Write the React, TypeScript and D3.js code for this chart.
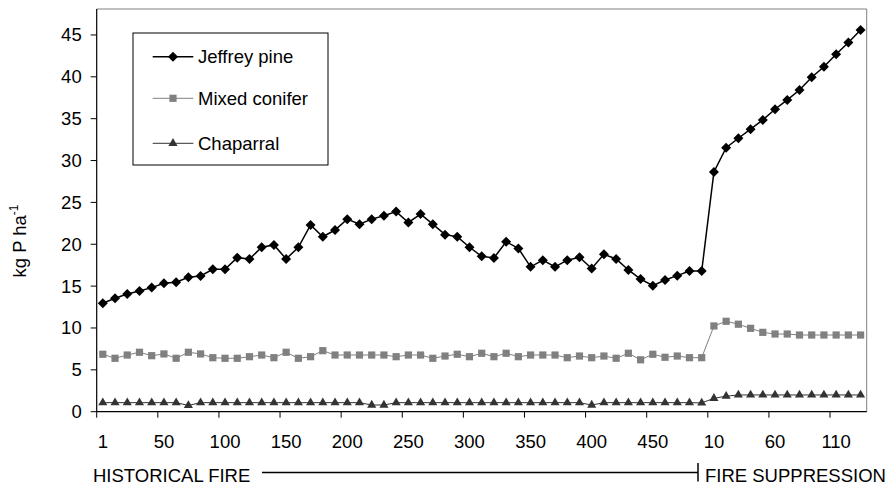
import React from "react"
import * as d3 from "d3"

// years since start of record; historical fire period then fire suppression period
const categories = [
  "1", "10", "20", "30", "40", "50", "60", "70", "80", "90",
  "100", "110", "120", "130", "140", "150", "160", "170", "180", "190",
  "200", "210", "220", "230", "240", "250", "260", "270", "280", "290",
  "300", "310", "320", "330", "340", "350", "360", "370", "380", "390",
  "400", "410", "420", "430", "440", "450", "460", "470", "480", "490",
  "s10", "s20", "s30", "s40", "s50", "s60", "s70", "s80", "s90", "s100",
  "s110", "s120", "s130",
]

const jeffreyPine = [
  12.95, 13.55, 14.06, 14.42, 14.82, 15.34, 15.46, 16.05, 16.21, 17.0,
  17.0, 18.4, 18.24, 19.64, 19.92, 18.24, 19.64, 22.3, 20.9, 21.7,
  23.0, 22.4, 23.0, 23.4, 23.9, 22.6, 23.6, 22.4, 21.15, 20.9,
  19.64, 18.56, 18.36, 20.3, 19.5, 17.3, 18.1, 17.3, 18.1, 18.45,
  17.1, 18.8, 18.24, 16.93, 15.85, 15.05, 15.73, 16.25, 16.8, 16.8,
  28.64, 31.54, 32.66, 33.74, 34.85, 36.13, 37.24, 38.43, 39.95, 41.2,
  42.7, 44.1, 45.6,
]

const mixedConifer = [
  6.86, 6.38, 6.77, 7.1, 6.69, 6.9, 6.38, 7.1, 6.9, 6.45,
  6.38, 6.38, 6.57, 6.77, 6.45, 7.1, 6.38, 6.57, 7.29, 6.77,
  6.77, 6.77, 6.77, 6.77, 6.57, 6.77, 6.77, 6.38, 6.65, 6.86,
  6.57, 6.98, 6.57, 6.98, 6.57, 6.77, 6.77, 6.77, 6.45, 6.65,
  6.45, 6.65, 6.38, 6.98, 6.2, 6.86, 6.5, 6.65, 6.45, 6.45,
  10.24, 10.8, 10.45, 9.96, 9.48, 9.28, 9.28, 9.16, 9.16, 9.16,
  9.16, 9.16, 9.16,
]

const chaparral = [
  1.08, 1.08, 1.08, 1.08, 1.08, 1.08, 1.08, 0.75, 1.08, 1.08,
  1.08, 1.08, 1.08, 1.08, 1.08, 1.08, 1.08, 1.08, 1.08, 1.08,
  1.08, 1.08, 0.8, 0.8, 1.08, 1.08, 1.08, 1.08, 1.08, 1.08,
  1.08, 1.08, 1.08, 1.08, 1.08, 1.08, 1.08, 1.08, 1.08, 1.08,
  0.8, 1.08, 1.08, 1.08, 1.08, 1.08, 1.08, 1.08, 1.08, 1.05,
  1.6, 1.85, 2.0, 2.0, 2.0, 2.0, 2.0, 2.0, 2.0, 2.0,
  2.0, 2.0, 2.0,
]

const yTicks = [0, 5, 10, 15, 20, 25, 30, 35, 40, 45]

const series = [
  { name: "Jeffrey pine", values: jeffreyPine, color: "#000000", line: "#000000", width: 1.5, shape: "diamond" },
  { name: "Mixed conifer", values: mixedConifer, color: "#808080", line: "#808080", width: 1, shape: "square" },
  { name: "Chaparral", values: chaparral, color: "#333333", line: "#333333", width: 1, shape: "triangle" },
]

const W = 888
const H = 486
const margin = { top: 9, right: 21.3, bottom: 74.3, left: 96.7 }
const font = "Arial, 'Liberation Sans', sans-serif"
const fs = 18.5

function tickLabel(c: string) {
  return c.startsWith("s") ? c.slice(1) : c
}

function markerPath(shape: string) {
  if (shape === "diamond") return d3.symbol(d3.symbolSquare, 50)()
  if (shape === "square") return d3.symbol(d3.symbolSquare, 52)()
  return d3.symbol(d3.symbolTriangle, 36)()
}

export default function App() {
  const x = d3
    .scaleBand()
    .domain(categories)
    .range([margin.left, W - margin.right])
  const y = d3
    .scaleLinear()
    .domain([0, 48.1])
    .range([H - margin.bottom, margin.top])

  const cx = (i: number) => x(categories[i])! + x.bandwidth() / 2
  const line = d3
    .line<number>()
    .x((_, i) => cx(i))
    .y(d => y(d))

  const x0 = margin.left
  const x1 = W - margin.right
  const y0 = H - margin.bottom
  const y1 = margin.top

  const tickIdx = categories.map((_, i) => i).filter(i => i % 5 === 0)

  return (
    <svg
      width={W}
      height={H}
      style={{ position: "absolute", left: 0, top: 0, background: "#fff" }}
      fontFamily={font}
    >
      <rect x={0} y={0} width={W} height={H} fill="#fff" />

      {/* plot frame */}
      <line x1={x0} y1={y1} x2={x1} y2={y1} stroke="#808080" strokeWidth={1} />
      <line x1={x1} y1={y1} x2={x1} y2={y0} stroke="#808080" strokeWidth={1} />

      {/* series */}
      {series.map(s => (
        <g key={s.name}>
          <path d={line(s.values)!} fill="none" stroke={s.line} strokeWidth={s.width} />
          {s.values.map((v, i) => (
            <path
              key={i}
              d={markerPath(s.shape)!}
              transform={`translate(${cx(i)},${y(v)})${s.shape === "diamond" ? " rotate(45)" : ""}`}
              fill={s.color}
            />
          ))}
        </g>
      ))}

      {/* y axis */}
      <line x1={x0} y1={y0} x2={x0} y2={y1} stroke="#000" strokeWidth={1.2} />
      {yTicks.map(t => (
        <g key={t}>
          <line x1={x0 - 6} x2={x0} y1={y(t)} y2={y(t)} stroke="#000" />
          <text x={x0 - 15} y={y(t)} dy="0.35em" textAnchor="end" fontSize={fs}>
            {t}
          </text>
        </g>
      ))}
      <text
        transform={`translate(26,${241}) rotate(-90)`}
        textAnchor="middle"
        fontSize={fs}
      >
        kg P ha
        <tspan fontSize={12} dy="-8">-1</tspan>
      </text>

      {/* x axis */}
      <line x1={x0} y1={y0} x2={x1} y2={y0} stroke="#000" strokeWidth={1.2} />
      {tickIdx.map(i => (
        <g key={i}>
          <line x1={x(categories[i])!} x2={x(categories[i])!} y1={y0} y2={y0 + 6} stroke="#000" />
          <text x={cx(i)} y={y0 + 36.5} textAnchor="middle" fontSize={fs}>
            {tickLabel(categories[i])}
          </text>
        </g>
      ))}

      {/* period annotation */}
      <text x={93} y={481.5} fontSize={fs}>HISTORICAL FIRE</text>
      <line x1={262} x2={698} y1={472.5} y2={472.5} stroke="#000" strokeWidth={1.5} />
      <line x1={698} x2={698} y1={463} y2={481.5} stroke="#000" strokeWidth={1.5} />
      <text x={705} y={481.5} fontSize={fs}>FIRE SUPPRESSION</text>

      {/* legend */}
      <rect x={133} y={33} width={195} height={132} fill="#fff" stroke="#000" strokeWidth={1} />
      {series.map((s, i) => {
        const ly = [56.7, 98.3, 143.3][i]
        return (
          <g key={s.name}>
            <line x1={152.7} x2={193.3} y1={ly} y2={ly} stroke={s.line} strokeWidth={s.width} />
            <path
              d={markerPath(s.shape)!}
              transform={`translate(173,${ly})${s.shape === "diamond" ? " rotate(45)" : ""}`}
              fill={s.color}
            />
            <text x={198} y={ly} dy="0.35em" fontSize={fs}>
              {s.name}
            </text>
          </g>
        )
      })}
    </svg>
  )
}
